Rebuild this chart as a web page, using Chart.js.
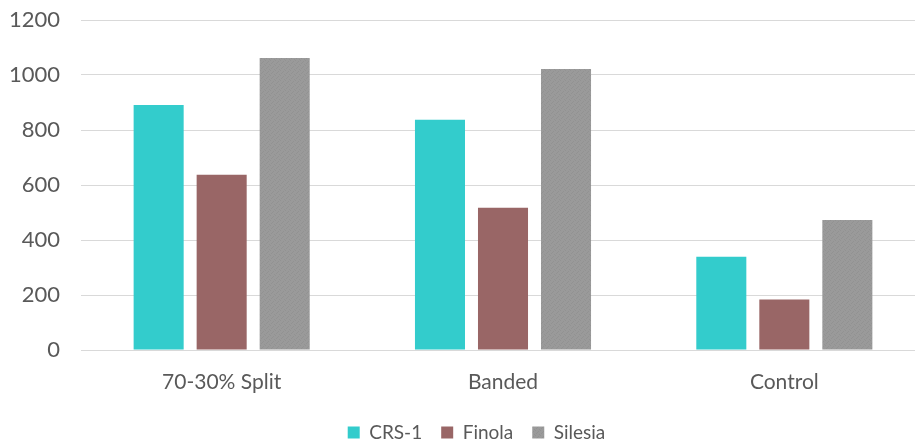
<!DOCTYPE html>
<html><head><meta charset="utf-8">
<script src="https://cdn.jsdelivr.net/npm/chart.js@4"></script>
<style>html,body{margin:0;padding:0;background:#fff;overflow:hidden;width:915px;height:443px}canvas{display:block}</style>
</head><body>
<canvas id="c" width="925" height="443"></canvas>
<script>
const categories = ["70-30% Split", "Banded", "Control"];
const crs1 = [891, 837, 339];
const finola = [637, 517, 184];
const silesia = [1062, 1022, 473];
const yTicks = [0, 200, 400, 600, 800, 1000, 1200];

const FONT = "Lato";

// subtle grey stipple like the reference's textured fill
function stipple() {
  const t = document.createElement('canvas');
  t.width = 5; t.height = 5;
  const g = t.getContext('2d');
  g.fillStyle = '#9a9a9a'; g.fillRect(0, 0, 5, 5);
  g.fillStyle = '#929292';
  g.fillRect(0, 0, 1, 1); g.fillRect(3, 1, 1, 1); g.fillRect(1, 3, 1, 1); g.fillRect(4, 4, 1, 1); g.fillRect(2, 2, 1, 1);
  return t.getContext('2d').createPattern(t, 'repeat');
}

const shiftLegend = {
  id: 'shiftLegend',
  afterLayout(chart) { const l = chart.legend; l.left += 14; l.right += 14; }
};

new Chart(document.getElementById('c'), {
  type: 'bar',
  data: {
    labels: categories,
    datasets: [
      {label: 'CRS-1', data: crs1, backgroundColor: '#33CCCC'},
      {label: 'Finola', data: finola, backgroundColor: '#996666'},
      {label: 'Silesia', data: silesia, backgroundColor: stipple()}
    ]
  },
  plugins: [shiftLegend],
  options: {
    responsive: false,
    animation: false,
    layout: {padding: {top: 20, right: 0, left: 0, bottom: -9}},
    datasets: {bar: {categoryPercentage: 0.672, barPercentage: 0.794}},
    plugins: {
      legend: {
        position: 'bottom',
        labels: {font: {family: FONT, size: 19}, color: '#595959', boxWidth: 12, boxHeight: 12, padding: 19}
      },
      tooltip: {enabled: false}
    },
    scales: {
      x: {
        grid: {display: false},
        border: {display: false},
        ticks: {font: {family: FONT, size: 21}, color: '#595959', padding: 12},
        afterFit: s => { s.height = 54; s.paddingLeft = 0; s.paddingRight = 0; }
      },
      y: {
        min: 0, max: 1200,
        afterBuildTicks: s => { s.ticks = yTicks.map(v => ({value: v})); },
        grid: {color: '#d9d9d9', lineWidth: 1, drawTicks: false},
        border: {display: false},
        ticks: {font: {family: FONT, size: 22}, color: '#595959', padding: 21, callback: v => String(v)},
        afterFit: s => { s.width = 81; s.paddingTop = 0; s.paddingBottom = 0; }
      }
    }
  }
});
</script>
</body></html>
